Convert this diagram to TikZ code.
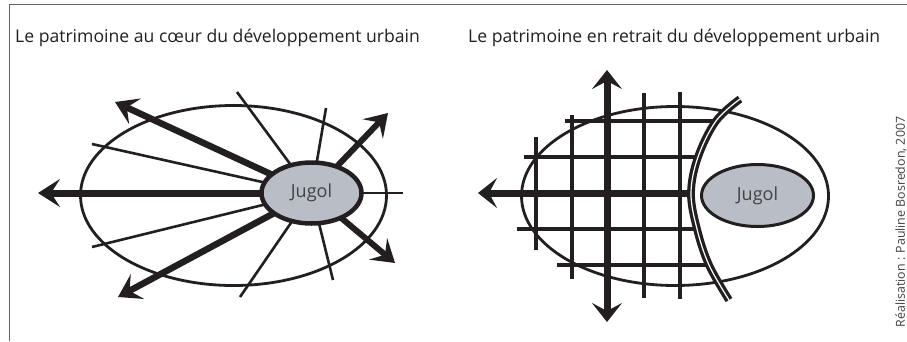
\documentclass[tikz,border=0pt]{standalone}
\usepackage{fontspec}
\setmainfont{Open Sans}
\usetikzlibrary{arrows.meta,shapes.geometric,backgrounds}
\definecolor{ink}{HTML}{231F20}
\definecolor{jugfill}{HTML}{B9BDC5}
\begin{document}
\begin{tikzpicture}[x=1pt,y=-1pt,
  thinray/.style={draw=ink,line width=2.6pt},
  bigarrow/.style={draw=ink,line width=6.5pt,-{Stealth[length=22pt,width=28pt,inset=9pt]}},
  gridarrow/.style={draw=ink,line width=7pt},
  gridline/.style={draw=ink,line width=3.2pt},
  zone/.style={ellipse,draw=ink,line width=2.8pt,inner sep=0pt,outer sep=0pt},
  jugol/.style={ellipse,fill=jugfill,draw=ink,inner sep=0pt,outer sep=0pt,font=\fontsize{18}{20}\selectfont,text=ink!85},
  titletext/.style={anchor=west,inner sep=0pt,font=\fontsize{17.6}{21}\selectfont,text=ink},
  road/.style={draw=ink,line width=3.3pt,double=white,double distance=1.2pt},
]
\useasboundingbox (0,0) rectangle (907,341);
% frame
\draw[draw=ink!70,line width=1.6pt] (907,4.5) -- (9.5,4.5) -- (9.5,341);

% titles
\node[titletext] (t1) at (15,38) {Le patrimoine au cœur du développement urbain};
\node[titletext] (t2) at (468,38) {Le patrimoine en retrait du développement urbain};
\node[rotate=90,inner sep=0pt,font=\fontsize{12.4}{14}\selectfont,text=ink!85] (credit) at (901,222) {Réalisation : Pauline Bosredon, 2007};

% ---------- left panel ----------
\node[zone,minimum width=306pt,minimum height=180pt] (zl) at (233.5,195.5) {};
\node[jugol,line width=4.5pt,minimum width=100pt,minimum height=61pt] (jl) at (311.5,193) {Jugol};

\coordinate (r1) at (237,92);
\coordinate (r2) at (326,108);
\coordinate (r3) at (92,144);
\coordinate (r4) at (92,247);
\coordinate (r5) at (240,297);
\coordinate (r6) at (333,280);
\coordinate (r7) at (403,193);
\coordinate (a1) at (38,193);
\coordinate (a2) at (115,102);
\coordinate (a3) at (118,297);
\coordinate (a4) at (388,113);
\coordinate (a5) at (395,263);

\begin{scope}[on background layer]
  \foreach \r in {r1,r2,r3,r4,r5,r6,r7} \draw[thinray] (jl.center) -- (\r);
  \draw[bigarrow,line width=7pt] (jl.center) -- (a1);
  \draw[bigarrow] (jl.center) -- (a2);
  \draw[bigarrow] (jl.center) -- (a3);
  \draw[bigarrow,line width=6pt] (jl.center) -- (a4);
  \draw[bigarrow,line width=6pt] (jl.center) -- (a5);
\end{scope}

% ---------- right panel ----------
\node[zone,minimum width=307pt,minimum height=179pt] (zr) at (675,196) {};
\node[jugol,line width=3pt,minimum width=112pt,minimum height=62pt] (jr) at (757.5,195.5) {Jugol};

% grid verticals
\coordinate (v1t) at (536,137); \coordinate (v1b) at (536,250);
\coordinate (v2t) at (572,115); \coordinate (v2b) at (572,279);
\coordinate (v3t) at (644,93);  \coordinate (v3b) at (644,298);
\coordinate (v4t) at (680,92);  \coordinate (v4b) at (680,299);
\draw[gridline] (v1t) -- (v1b);
\draw[gridline] (v2t) -- (v2b);
\draw[gridline] (v3t) -- (v3b);
\draw[gridline] (v4t) -- (v4b);
% grid horizontals
\coordinate (h1l) at (565,121); \coordinate (h1r) at (716,121);
\coordinate (h2l) at (524,157); \coordinate (h2r) at (698,157);
\coordinate (h3l) at (517,229); \coordinate (h3r) at (697,229);
\coordinate (h4l) at (557,265); \coordinate (h4r) at (709,265);
\draw[gridline] (h1l) -- (h1r);
\draw[gridline] (h2l) -- (h2r);
\draw[gridline] (h3l) -- (h3r);
\draw[gridline] (h4l) -- (h4r);
% main axes
\coordinate (vat) at (607,70); \coordinate (vab) at (607,322);
\coordinate (har) at (691,193); \coordinate (hal) at (478,193);
\draw[gridarrow,{Stealth[length=19pt,width=30pt,inset=8pt]}-{Stealth[length=19pt,width=30pt,inset=8pt]}] (vat) -- (vab);
\draw[gridarrow,-{Stealth[length=19pt,width=30pt,inset=8pt]}] (har) -- (hal);

% road
\draw[road] plot[smooth,tension=0.6] coordinates {(740,99) (716,121) (698,157) (691,193) (697,229) (709,265) (729,300)};
\end{tikzpicture}
\end{document}
